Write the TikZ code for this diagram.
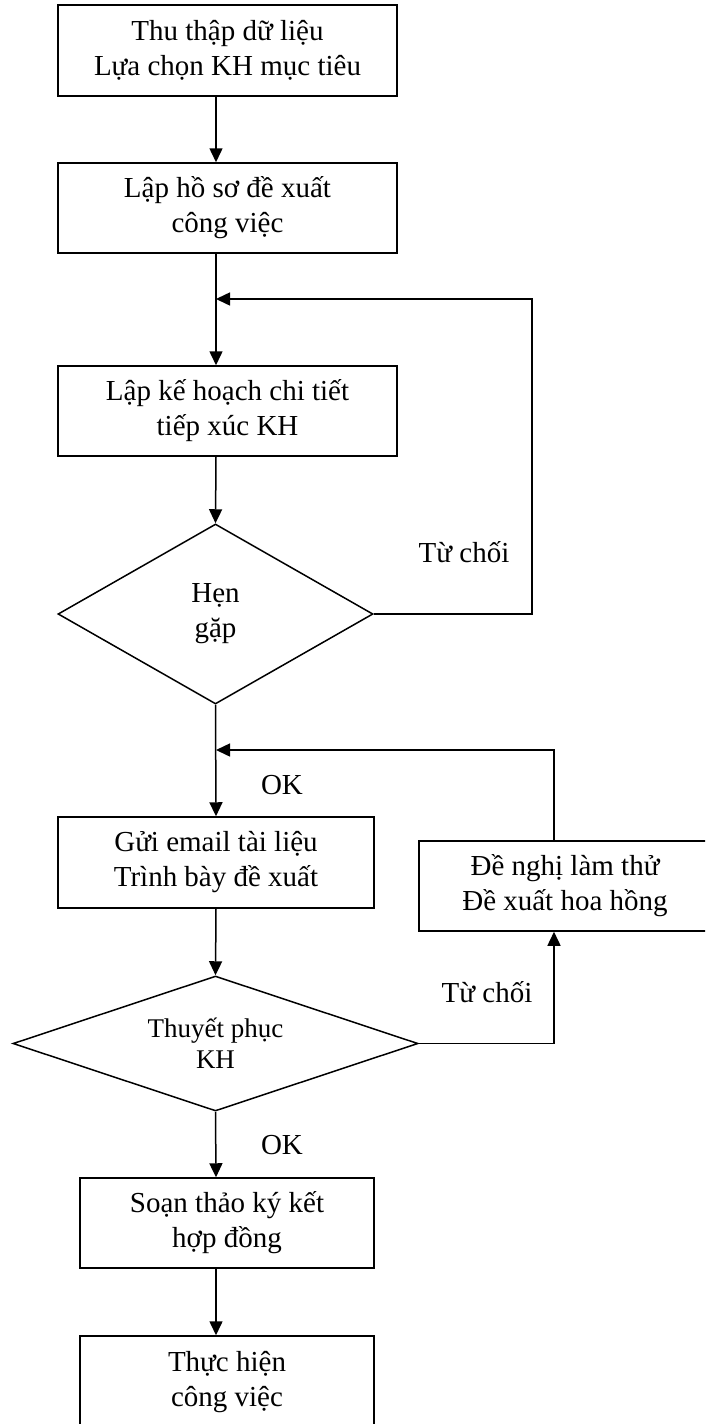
\documentclass[tikz,border=0pt]{standalone}
\usepackage{fontspec}
\setmainfont{Liberation Serif}
\usetikzlibrary{arrows.meta,shapes.geometric}
\begin{document}
\begin{tikzpicture}[x=1pt,y=-1pt,
  box/.style={draw, line width=1.5pt, rectangle, align=center, inner sep=0pt, font=\fontsize{29}{35}\selectfont},
  dia/.style={draw, line width=1.5pt, diamond, align=center, inner sep=0pt, shape aspect=1.75},
  arr/.style={line width=1.5pt, -{Triangle[length=14pt,width=13pt]}},
  ln/.style={line width=1.5pt},
  lbl/.style={font=\fontsize{29}{35}\selectfont, inner sep=0pt}]
\useasboundingbox (0,0) rectangle (705,1424);
\clip (0,0) rectangle (705,1424);
\coordinate (ax) at (216,0);
% boxes
\node[box, minimum width=339pt, minimum height=91pt] (b1) at (227.5,50.5) {Thu thập dữ liệu\\Lựa chọn KH mục tiêu};
\node[box, minimum width=339pt, minimum height=90pt] (b2) at (227.5,208) {Lập hồ sơ đề xuất\\công việc};
\node[box, minimum width=339pt, minimum height=90pt] (b3) at (227.5,411) {Lập kế hoạch chi tiết\\tiếp xúc KH};
\node[dia, minimum width=315pt, minimum height=180pt, font=\fontsize{29}{35}\selectfont] (d1) at (215.5,614) {Hẹn\\gặp};
\node[box, minimum width=316pt, minimum height=91pt] (b4) at (216,862.5) {Gửi email tài liệu\\Trình bày đề xuất};
\node[box, minimum width=292pt, minimum height=90pt] (b5) at (565,886) {Đề nghị làm thử\\Đề xuất hoa hồng};
\node[dia, minimum width=405pt, minimum height=135pt, font=\fontsize{27}{31}\selectfont] (d2) at (215.5,1043.5) {Thuyết phục\\KH};
\node[box, minimum width=294pt, minimum height=90pt] (b6) at (227,1223) {Soạn thảo ký kết\\hợp đồng};
\node[box, minimum width=294pt, minimum height=92pt] (b7) at (227,1382) {Thực hiện\\công việc};
% junction / corner coordinates
\coordinate (j1) at (216,299);
\coordinate (r1) at (532,299);
\coordinate (j2) at (216,750);
\coordinate (r2) at (554,750);
% labels
\node[lbl] (t1) at (464,552) {Từ chối};
\node[lbl] (t2) at (487,992) {Từ chối};
\node[lbl] (ok1) at (282,785) {OK};
\node[lbl] (ok2) at (282,1145) {OK};
% connectors
\draw[arr] (b1.south -| ax) -- (b2.north -| ax);
\draw[arr] (b2.south -| ax) -- (b3.north -| ax);
\draw[arr] (d1.east) -| (r1) -- (j1);
\draw[arr] (b3.south -| ax) -- (d1.north);
\draw[arr] (d1.south) -- (b4.north -| ax);
\draw[arr] (b5.north -| r2) -- (r2) -- (j2);
\draw[arr] (b4.south -| ax) -- (d2.north);
\draw[arr] (d2.east) -| (b5.south -| r2);
\draw[arr] (d2.south) -- (b6.north -| ax);
\draw[arr] (b6.south -| ax) -- (b7.north -| ax);
\end{tikzpicture}
\end{document}
